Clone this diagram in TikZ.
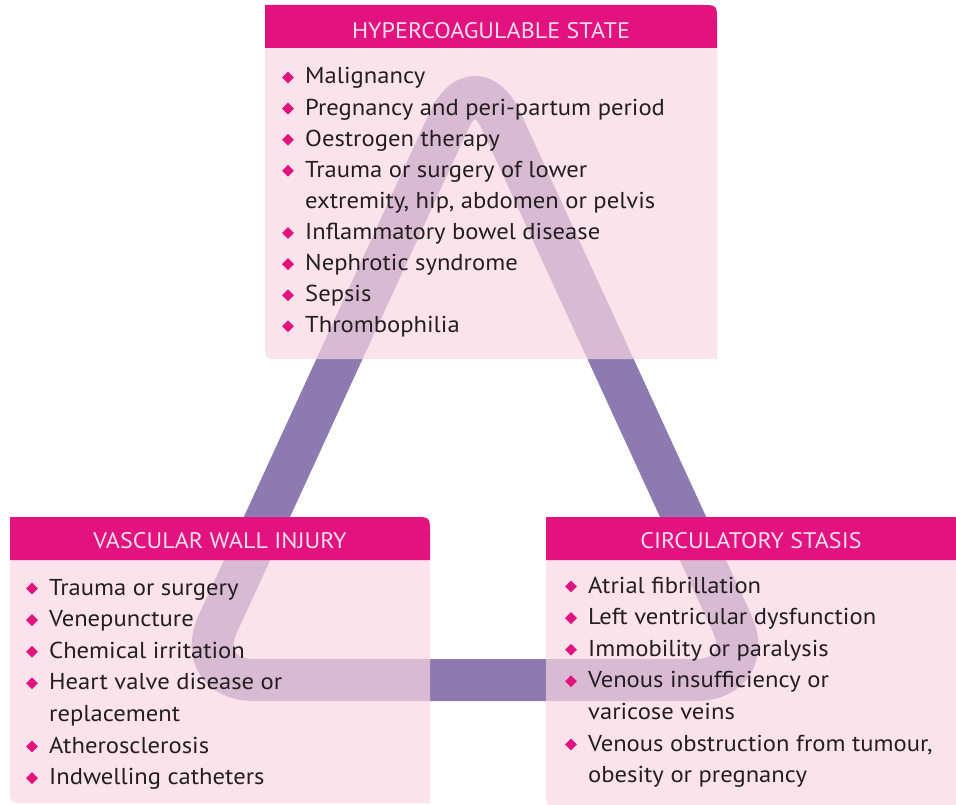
\documentclass[tikz,border=0pt]{standalone}
\usepackage{fontspec}
\setmainfont{PT Sans}[FakeStretch=1.07]
\usetikzlibrary{shapes.geometric}
\definecolor{hdr}{RGB}{226,18,126}
\definecolor{boxpink}{RGB}{250,214,227}
\definecolor{bandcol}{RGB}{140,122,176}
\definecolor{ink}{RGB}{35,31,32}
\definecolor{headtext}{RGB}{252,222,236}

\begin{document}
\begin{tikzpicture}[x=1pt,y=-1pt,
  band/.style={draw=bandcol,line width=42pt,rounded corners=62pt},
  boxbody/.style={fill=boxpink,fill opacity=0.7},
  head/.style={anchor=base,text=headtext,font=\fontsize{22.5}{26}\selectfont,inner sep=0pt},
  item/.style={anchor=base west,text=ink,font=\fontsize{23}{27}\selectfont,inner sep=0pt},
  bullet/.style={diamond,fill=hdr,inner sep=0pt,minimum size=12pt}]
\useasboundingbox (0,0) rectangle (956,805);

% the triangle behind the boxes
\draw[band] (475,680) -- (758,680) -- (475,64) -- (192,680) -- cycle;

% boxes: body, then header
\foreach \xa/\ya/\xb/\yb in {265/5/717/359, 10/517/430/803, 546/517/962/807} {
  \fill[boxbody] (\xa,\ya+42) -- (\xb,\ya+42) -- (\xb,\yb) -- (\xa+16,\yb) .. controls (\xa,\yb) .. (\xa,\yb-16) -- cycle;
  \fill[hdr] (\xa,\ya) -- (\xb-16,\ya) .. controls (\xb,\ya) .. (\xb,\ya+16) -- (\xb,\ya+43) -- (\xa,\ya+43) -- cycle;
}

\node[head] (hc) at (491,38.5) {HYPERCOAGULABLE STATE};
\node[head] (vw) at (220,548) {VASCULAR WALL INJURY};
\node[head] (cs) at (751,548) {CIRCULATORY STASIS};

% hypercoagulable state
\foreach \b/\t [count=\i] in {1/Malignancy, 1/Pregnancy and peri-partum period, 1/Oestrogen therapy,
    1/Trauma or surgery of lower, 0/{extremity, hip, abdomen or pelvis}, 1/Inflammatory bowel disease,
    1/Nephrotic syndrome, 1/Sepsis, 1/Thrombophilia} {
  \pgfmathsetmacro\yy{84+31.1*(\i-1)}
  \node[item] (hc\i) at (305,\yy) {\t};
  \ifnum\b=1 \node[bullet] (hcb\i) at (288,\yy-6.5) {}; \fi
}

% vascular wall injury
\foreach \b/\t [count=\i] in {1/Trauma or surgery, 1/Venepuncture, 1/Chemical irritation,
    1/Heart valve disease or, 0/replacement, 1/Atherosclerosis, 1/Indwelling catheters} {
  \pgfmathsetmacro\yy{595+31.6*(\i-1)}
  \node[item] (vw\i) at (49,\yy) {\t};
  \ifnum\b=1 \node[bullet] (vwb\i) at (32,\yy-6.5) {}; \fi
}

% circulatory stasis
\foreach \b/\t [count=\i] in {1/Atrial fibrillation, 1/Left ventricular dysfunction, 1/Immobility or paralysis,
    1/Venous insufficiency or, 0/varicose veins, 1/{Venous obstruction from tumour,}, 0/obesity or pregnancy} {
  \pgfmathsetmacro\yy{593+31.6*(\i-1)}
  \node[item] (cs\i) at (588,\yy) {\t};
  \ifnum\b=1 \node[bullet] (csb\i) at (571,\yy-6.5) {}; \fi
}
\end{tikzpicture}
\end{document}
